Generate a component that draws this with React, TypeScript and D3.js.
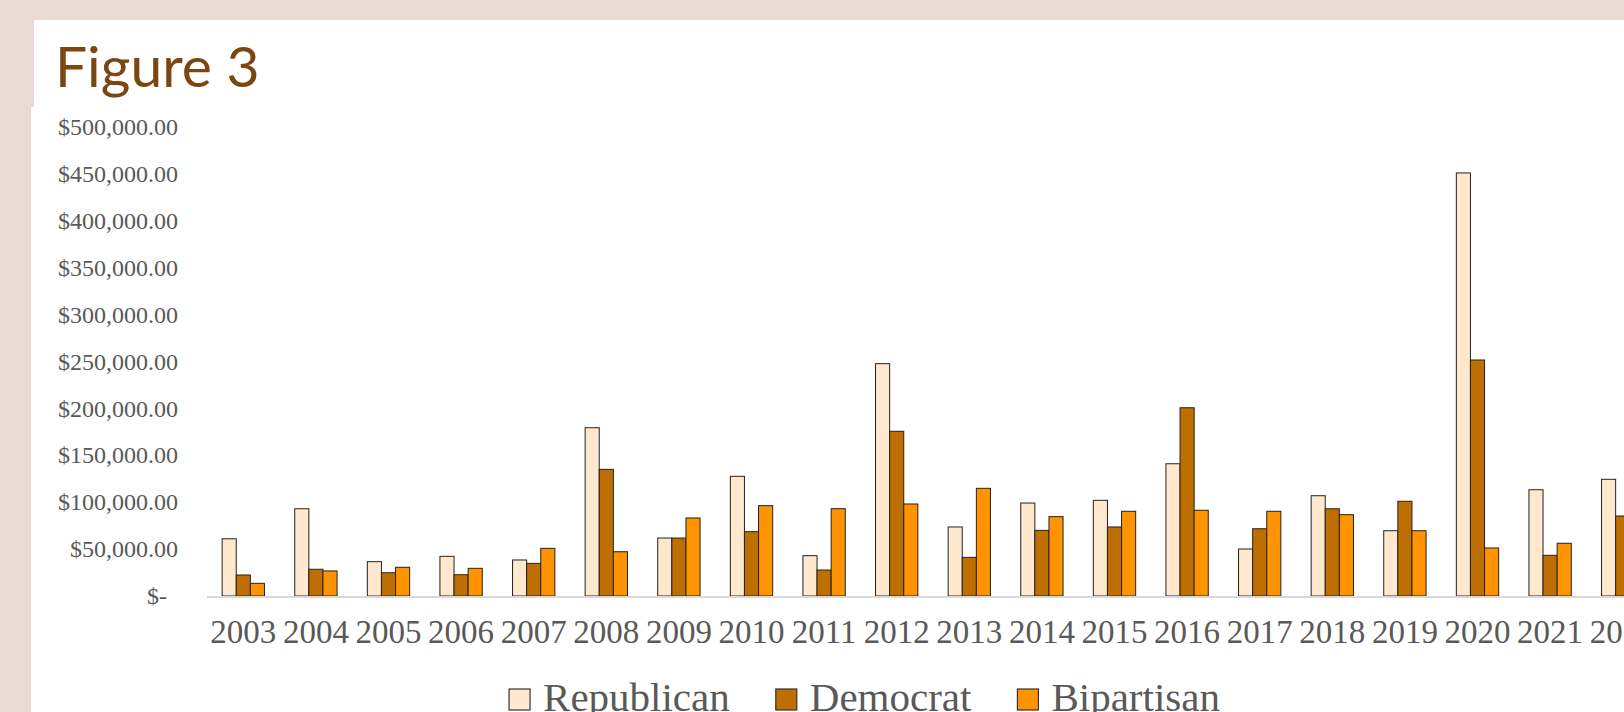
import React, { useEffect, useRef } from 'react';
import * as d3 from 'd3';

// values (USD)
const years = ['2003', '2004', '2005', '2006', '2007', '2008', '2009', '2010', '2011', '2012',
  '2013', '2014', '2015', '2016', '2017', '2018', '2019', '2020', '2021', '2022'];
const republican = [61000, 93000, 36600, 42300, 38400, 179400, 61800, 127600, 43000, 247700,
  73600, 99100, 102000, 141000, 50100, 106900, 69600, 451000, 113300, 124400];
const democrat = [22400, 28500, 24800, 22700, 34800, 135000, 61800, 68600, 27700, 175600,
  41200, 70000, 73600, 200700, 71700, 93000, 101000, 251600, 43400, 85300];
const bipartisan = [13500, 26700, 30600, 29500, 50800, 47200, 83200, 96300, 93100, 98100,
  114800, 84600, 90300, 91400, 90300, 86700, 69600, 51200, 56200, 60000];
const seriesNames = ['Republican', 'Democrat', 'Bipartisan'];
const seriesColors = ['#FFE8CD', '#BF6F00', '#FF9300'];
const yTicks = [0, 50000, 100000, 150000, 200000, 250000, 300000, 350000, 400000, 450000, 500000];

const width = 1624;
const height = 712;
const serif = '"Liberation Serif", "Times New Roman", serif';

export default function App() {
  const ref = useRef<SVGSVGElement>(null);

  useEffect(() => {
    document.body.style.margin = '0';
    const svg = d3.select(ref.current);
    svg.selectAll('*').remove();

    // page background + white slide panel
    svg.append('rect').attr('width', width).attr('height', height).attr('fill', '#E9DBD3');
    svg.append('rect').attr('x', 34).attr('y', 20).attr('width', width - 34).attr('height', height - 20).attr('fill', '#fff');
    svg.append('rect').attr('x', 31).attr('y', 107).attr('width', width - 31).attr('height', height - 107).attr('fill', '#fff');

    svg.append('text')
      .attr('x', 55).attr('y', 87)
      .style('font-family', 'Lato, "Open Sans", sans-serif')
      .style('font-size', '57px')
      .attr('fill', '#7B4611')
      .text('Figure 3');

    //----------- scales --------------------------//
    const step = 72.6;
    const x0 = d3.scaleBand()
      .domain(years)
      .range([207, 207 + step * years.length])
      .paddingInner(0.417)
      .paddingOuter(0.2085);
    const x1 = d3.scaleBand()
      .domain(seriesNames)
      .range([0, x0.bandwidth()]);
    const y = d3.scaleLinear()
      .domain([0, 500000])
      .range([596, 127]);

    // y labels (accounting style)
    const fmt = d3.format('$,.2f');
    const yAxis = svg.append('g');
    yAxis.selectAll('text')
      .data(yTicks)
      .join('text')
      .attr('x', d => (d === 0 ? 167 : 178))
      .attr('y', d => y(d))
      .attr('dy', '0.34em')
      .attr('text-anchor', 'end')
      .style('font-family', serif)
      .style('font-size', '24px')
      .attr('fill', '#595959')
      .text(d => (d === 0 ? '$-' : fmt(d)));

    // bars
    const seriesValues = [republican, democrat, bipartisan];
    const groups = svg.append('g')
      .selectAll('g')
      .data(years)
      .join('g')
      .attr('transform', d => `translate(${x0(d)},0)`);
    groups.selectAll('rect')
      .data((d, i) => seriesNames.map((s, k) => ({ s, k, v: seriesValues[k][i] })))
      .join('rect')
      .attr('x', d => x1(d.s)!)
      .attr('y', d => y(d.v))
      .attr('width', x1.bandwidth())
      .attr('height', d => y(0) - y(d.v))
      .attr('fill', d => seriesColors[d.k])
      .attr('stroke', '#222')
      .attr('stroke-width', 1);

    // x axis line
    svg.append('line')
      .attr('x1', 207).attr('x2', width)
      .attr('y1', y(0) + 1).attr('y2', y(0) + 1)
      .attr('stroke', '#D9D9D9')
      .attr('stroke-width', 2);

    svg.append('g')
      .selectAll('text')
      .data(years)
      .join('text')
      .attr('x', d => x0(d)! + x0.bandwidth() / 2)
      .attr('y', 643)
      .attr('text-anchor', 'middle')
      .style('font-family', serif)
      .style('font-size', '33px')
      .attr('fill', '#595959')
      .text(d => d);

    //----------- legend --------------------------//
    const legend = svg.append('g');
    const box = 21;
    const gapText = 13;
    const gapItem = 46;
    let cx = 0;
    seriesNames.forEach((name, k) => {
      const g = legend.append('g');
      g.append('rect')
        .attr('x', 0).attr('y', 689)
        .attr('width', box).attr('height', box)
        .attr('fill', seriesColors[k])
        .attr('stroke', '#333')
        .attr('stroke-width', 1.2);
      const t = g.append('text')
        .attr('x', box + gapText)
        .attr('y', 711)
        .style('font-family', serif)
        .style('font-size', '41px')
        .attr('fill', '#595959')
        .text(name);
      const w = box + gapText + (t.node() as SVGTextElement).getComputedTextLength();
      g.attr('transform', `translate(${cx},0)`);
      cx += w + gapItem;
    });
    const total = cx - gapItem;
    legend.attr('transform', `translate(${864.5 - total / 2},0)`);
  }, []);

  return (
    <svg ref={ref} width={width} height={height}
      style={{ position: 'absolute', left: 0, top: 0, display: 'block' }} />
  );
}
